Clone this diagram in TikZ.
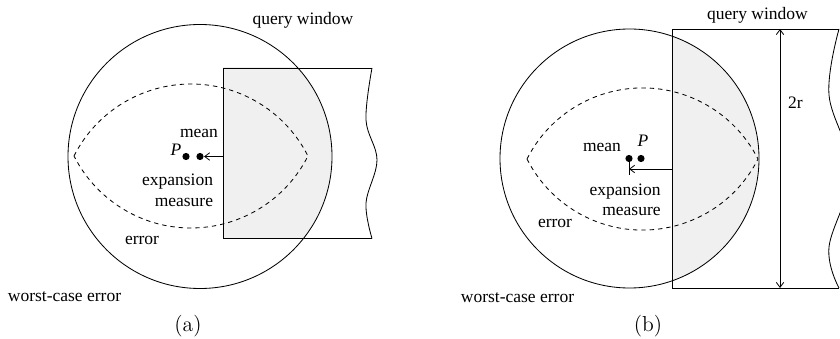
\documentclass[tikz,border=0pt]{standalone}
\usepackage{fontspec}
\setmainfont{Liberation Serif}
\newfontfamily\capfont{Latin Modern Roman}
\usetikzlibrary{arrows.meta}

\tikzset{
  lbl/.style={font=\fontsize{10.5}{12}\selectfont, inner sep=0pt, anchor=base},
  sublbl/.style={font=\fontsize{13}{15}\capfont, inner sep=0pt, anchor=base},
  dot/.style={circle, fill=black, inner sep=0pt, minimum size=4.3pt},
  lens/.style={dash pattern=on 2.6pt off 2.4pt},
  barb/.style={-{Straight Barb[length=3pt,width=4.5pt]}},
  dblbarb/.style={{Straight Barb[length=3pt,width=4.5pt]}-{Straight Barb[length=3pt,width=4.5pt]}},
  shadefill/.style={fill=black!6},
}

\begin{document}
\begin{tikzpicture}[x=0.6pt, y=-0.6pt, line width=0.5pt]
  \clip (0,0) rectangle (840,339);

  % ---------------- panel (a) ----------------
  \begin{scope}
    \clip (223,68) rectangle (380,238.5);
    \fill[shadefill] (200,156.5) circle[radius=132];
  \end{scope}
  \draw (200,156.5) circle[radius=132];
  \draw (372,68) -- (223,68) -- (223,238.5) -- (372,238.5);
  \draw plot[smooth, tension=0.6] coordinates
    {(372,68) (366,120) (377,160) (366,203) (372,238.5)};
  % error region
  \draw[lens] (74,156) arc[start angle=-153.2, end angle=-26.8, radius=131.06]
                       arc[start angle=26.8, end angle=153.2, radius=131.06];
  % points and expansion measure
  \node[dot] (Pa) at (186,156.5) {};
  \node[dot] (ma) at (200,156.5) {};
  \coordinate (ea) at (223,156.5);
  \draw[barb] (ea) -- (ma.east);
  % labels
  \node[lbl] (qwa) at (303,25) {query window};
  \node[lbl] (meana) at (199,138) {mean};
  \node[lbl, font=\fontsize{10.5}{12}\selectfont\itshape] (pla) at (176,156) {P};
  \node[lbl, anchor=base east] (expa) at (213.5,185) {expansion};
  \node[lbl, anchor=base east] (measa) at (213.5,206) {measure};
  \node[lbl] (erra) at (142,244) {error};
  \node[lbl] (wca) at (64.5,301) {worst-case error};
  \node[sublbl] (capa) at (188,331) {(a)};

  % ---------------- panel (b) ----------------
  \begin{scope}
    \clip (672,29) rectangle (765,288);
    \fill[shadefill] (629.5,158.5) circle[radius=129.5];
  \end{scope}
  \draw (629.5,158.5) circle[radius=129.5];
  \draw (839,29) -- (672,29) -- (672,288) -- (839,288);
  \draw plot[smooth, tension=0.6] coordinates
    {(839,29) (829,95) (851,171) (829,247) (839,288)};
  % window height
  \coordinate (tb) at (780,29);
  \coordinate (bb) at (780,288);
  \draw[dblbarb] (tb) -- (bb);
  % error region
  \draw[lens] (527,159) arc[start angle=-153.2, end angle=-26.8, radius=129.4]
                        arc[start angle=26.8, end angle=153.2, radius=129.4];
  % points and expansion measure
  \coordinate (tickb) at (629,175.5);
  \coordinate (hb) at (629,169);
  \coordinate (eb) at (672,169);
  \node[dot] (mb) at (629,158.5) {};
  \node[dot] (Pb) at (641,158.5) {};
  \draw (mb.center) -- (tickb);
  \draw[barb] (eb) -- (hb);
  % labels
  \node[lbl] (qwb) at (757.5,20) {query window};
  \node[lbl] (twor) at (795.5,109) {2r};
  \node[lbl, font=\fontsize{10.5}{12}\selectfont\itshape] (plb) at (643,147) {P};
  \node[lbl] (meanb) at (602,152) {mean};
  \node[lbl, anchor=base east] (expb) at (661,195) {expansion};
  \node[lbl, anchor=base east] (measb) at (661,215) {measure};
  \node[lbl] (errb) at (555,227) {error};
  \node[lbl] (wcb) at (517.5,302) {worst-case error};
  \node[sublbl] (capb) at (648,331) {(b)};
\end{tikzpicture}
\end{document}
